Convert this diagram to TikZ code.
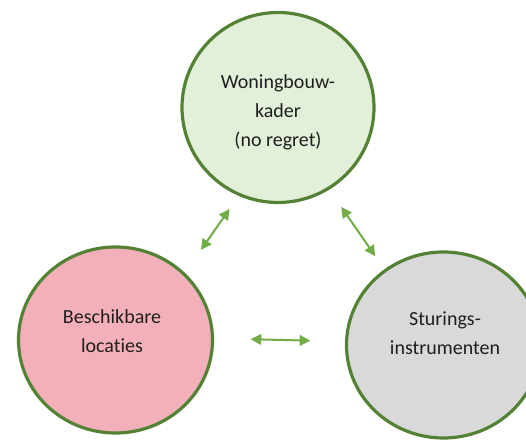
\documentclass[tikz,border=0pt]{standalone}
\usepackage{fontspec}
\setmainfont{Carlito}[Ligatures=NoCommon]
\usetikzlibrary{shapes.geometric,arrows.meta}
\definecolor{rimgreen}{RGB}{84,130,53}
\definecolor{arrgreen}{RGB}{112,173,71}
\definecolor{kaderfill}{RGB}{226,240,217}
\definecolor{locfill}{RGB}{244,176,186}
\definecolor{stuurfill}{RGB}{217,217,217}

\begin{document}
\begin{tikzpicture}[x=0.75pt, y=-0.75pt,
  bubble/.style={ellipse, draw=rimgreen, line width=2.4pt, inner sep=0pt},
  lbl/.style={align=center, font=\fontsize{15}{21.75}\selectfont, text=black!88},
  arr/.style={{Triangle[length=8pt,width=8pt]}-{Triangle[length=8pt,width=8pt]},
              line width=1.5pt, arrgreen}]
\useasboundingbox (0,0) rectangle (526,441);

\node[bubble, fill=kaderfill, minimum width=144pt, minimum height=142.5pt] (woning) at (278,107.5) {};
\node[bubble, fill=locfill, minimum width=145.5pt, minimum height=139.5pt] (locaties) at (115.5,340) {};
\node[bubble, fill=stuurfill, minimum width=145.5pt, minimum height=139.5pt] (sturing) at (443.5,345) {};

\node[lbl] (woningtxt) at (278,112) {Woningbouw-\\kader\\(no regret)};
\node[lbl] (locatiestxt) at (112,331) {Beschikbare\\locaties};
\node[lbl] (sturingtxt) at (445,333.5) {Sturings-\\instrumenten};

\draw[arr, shorten <=12pt, shorten >=21pt] (woning.246) -- (locaties.44.5);
\draw[arr, shorten <=15.75pt, shorten >=12pt] (woning.302) -- (sturing.128);
\draw[arr, shorten <=27.4pt, shorten >=26pt] (locaties.1) -- (sturing.178);
\end{tikzpicture}
\end{document}
